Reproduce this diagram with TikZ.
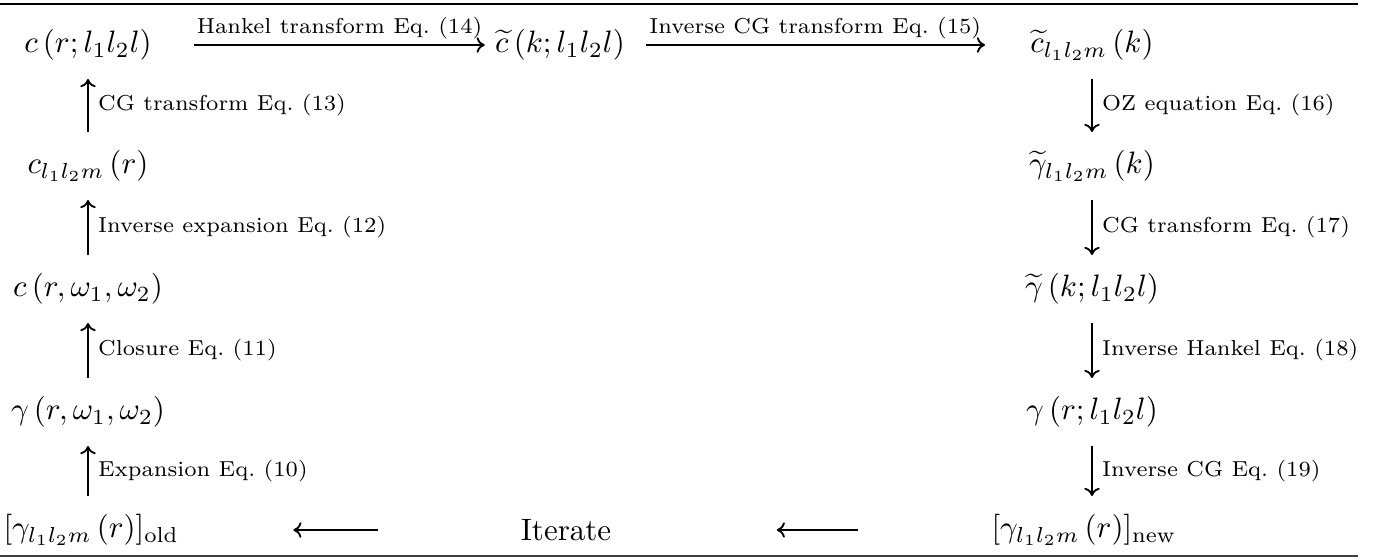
\documentclass[tikz,border=0pt]{standalone}
\usepackage{amsmath}
\usetikzlibrary{arrows.meta,positioning}

\begin{document}
\begin{tikzpicture}[x=0.323pt,y=-0.323pt,
    term/.style={inner sep=0pt,minimum height=21.6pt},
    lbl/.style={font=\scriptsize,inner sep=3pt},
    flow/.style={-{To[length=2.6pt,width=5pt]},line width=0.6pt}]
  \useasboundingbox (0,0) rectangle (1379,560);
  % rules
  \draw[line width=0.7pt] (0,4) -- (1358,4);
  \draw[line width=0.9pt,black!75] (0,556) -- (1358,556);

  % left column
  \node[term] (cr) at (88,45)  {$c\left(r;l_1l_2l\right)$};
  \node[term] (cl) at (88,166) {$c_{l_1l_2m}\left(r\right)$};
  \node[term] (cw) at (88,289) {$c\left(r,\omega_1,\omega_2\right)$};
  \node[term] (gw) at (88,412) {$\gamma\left(r,\omega_1,\omega_2\right)$};
  \node[term,anchor=west] (go) at (3,530) {$[\gamma_{l_1l_2m}\left(r\right)]_{\mathrm{old}}$};
  % middle
  \node[term] (ck) at (560,45) {$\widetilde{c}\left(k;l_1l_2l\right)$};
  \node[term] (it) at (566,530) {Iterate};
  % right column
  \node[term] (cm) at (1092,45)  {$\widetilde{c}_{l_1l_2m}\left(k\right)$};
  \node[term] (gm) at (1092,166) {$\widetilde{\gamma}_{l_1l_2m}\left(k\right)$};
  \node[term] (gk) at (1092,289) {$\widetilde{\gamma}\left(k;l_1l_2l\right)$};
  \node[term] (gr) at (1092,412) {$\gamma\left(r;l_1l_2l\right)$};
  \node[term] (gn) at (1084,530) {$[\gamma_{l_1l_2m}\left(r\right)]_{\mathrm{new}}$};

  % top row
  \draw[flow] ([xshift=13.6pt]cr.east) -- node[lbl,above,inner sep=1.8pt] {Hankel transform Eq.~(14)} ([xshift=-3.2pt]ck.west);
  \draw[flow] ([xshift=6.5pt]ck.east) -- node[lbl,above,inner sep=1.8pt] {Inverse CG transform Eq.~(15)} ([xshift=-14.5pt]cm.west);
  % up the left side
  \draw[flow] (go.north -| gw) -- node[lbl,right] {Expansion Eq.~(10)} (gw.south);
  \draw[flow] (gw.north) -- node[lbl,right] {Closure Eq.~(11)} (cw.south);
  \draw[flow] (cw.north) -- node[lbl,right] {Inverse expansion Eq.~(12)} (cl.south);
  \draw[flow] (cl.north) -- node[lbl,right] {CG transform Eq.~(13)} (cr.south);
  % down the right side
  \draw[flow] (cm.south) -- node[lbl,right] {OZ equation Eq.~(16)} (gm.north);
  \draw[flow] (gm.south) -- node[lbl,right] {CG transform Eq.~(17)} (gk.north);
  \draw[flow] (gk.south) -- node[lbl,right] {Inverse Hankel Eq.~(18)} (gr.north);
  \draw[flow] (gr.south) -- node[lbl,right] {Inverse CG Eq.~(19)} (gn.north -| gr);
  % bottom row
  \draw[flow] ([xshift=-43pt]gn.west) -- ([xshift=53.3pt]it.east);
  \draw[flow] ([xshift=-45.9pt]it.west) -- ([xshift=36.8pt]go.east);
\end{tikzpicture}
\end{document}
